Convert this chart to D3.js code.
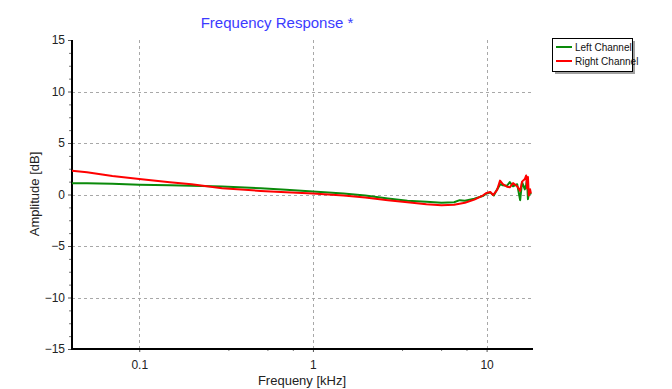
<!DOCTYPE html>
<html><head><meta charset="utf-8">
<script src="https://cdn.jsdelivr.net/npm/d3@7"></script>
<style>body{margin:0;background:#fff;}svg{display:block;font-family:"Liberation Sans",Arial,sans-serif;}</style>
</head><body>
<svg id="chart" width="672" height="389"></svg>
<script>
const title = "Frequency Response *";
const xTitle = "Frequeny [kHz]";
const yTitle = "Amplitude [dB]";
const seriesNames = ["Left Channel", "Right Channel"];
const seriesColors = ["#0a8a0a", "#ff0000"];
const xTicks = [0.1, 1, 10];
const xTickLabels = ["0.1", "1", "10"];
const xMinorTicks = [0.326, 0.547, 0.766, 3.26, 5.47, 7.66];
const yTicks = [15, 10, 5, 0, -5, -10, -15];
const yMinorTicks = [13.75, 12.5, 11.25, 8.75, 7.5, 6.25, 3.75, 2.5, 1.25, -1.25, -2.5, -3.75, -6.25, -7.5, -8.75, -11.25, -12.5, -13.75];
const xDomain = [0.041, 18.5];
const yDomain = [-15, 15];

const freqL = [0.041,0.05,0.07,0.1,0.15,0.2,0.3,0.5,0.7,1,1.5,2,2.7,3.5,4.5,5.5,6.5,7,7.5,8.5,9.5,10,10.5,11,11.5,12,12.4,13.1,13.6,14.2,15,15.6,16,16.6,16.9,17.1,17.3,17.6,18];
const ampL  = [1.1,1.1,1.05,0.95,0.9,0.85,0.78,0.6,0.45,0.3,0.1,-0.1,-0.38,-0.6,-0.7,-0.8,-0.75,-0.55,-0.6,-0.4,-0.15,0.1,0.2,-0.1,0.5,1.0,0.9,0.85,1.2,0.8,1.0,-0.55,1.2,0.5,1.0,1.4,-0.45,0.3,0.0];
const freqR = [0.041,0.05,0.07,0.1,0.15,0.2,0.3,0.5,0.7,1,1.5,2,2.7,3.5,4.5,5.5,6.5,7.5,8.5,9.5,10,10.5,10.9,11.5,11.95,12.4,13.1,13.6,14.2,15,15.6,16,16.6,16.9,17.1,17.3,17.5,17.8,18];
const ampR  = [2.3,2.15,1.8,1.5,1.2,1.0,0.6,0.35,0.22,0.1,-0.1,-0.3,-0.55,-0.75,-0.95,-1.05,-1.0,-0.8,-0.5,-0.1,0.15,0.25,-0.05,0.45,1.35,1.0,0.75,0.7,1.1,0.8,0.35,1.25,1.5,1.85,0.6,1.7,-0.1,0.5,0.1];

const svg = d3.select("#chart");
const m = {left:72, right:533, top:40, bottom:349};
const x = d3.scaleLog().domain(xDomain).range([m.left, m.right]);
const y = d3.scaleLinear().domain(yDomain).range([m.bottom, m.top]);

// title
svg.append("text").attr("x", 277).attr("y", 28).attr("text-anchor","middle")
  .attr("font-size", 15).attr("fill", "#3b3bff").text(title);

// grid
const grid = svg.append("g").attr("stroke","#a8a8a8").attr("stroke-width",1).attr("stroke-dasharray","3,3");
grid.selectAll("line.h").data(yTicks.filter(d => d !== 15 && d !== -15)).join("line")
  .attr("x1", m.left).attr("x2", m.right).attr("y1", d => Math.round(y(d))+0.5).attr("y2", d => Math.round(y(d))+0.5);
grid.selectAll("line.v").data(xTicks).join("line")
  .attr("y1", m.top).attr("y2", m.bottom).attr("x1", d => Math.round(x(d))+0.5).attr("x2", d => Math.round(x(d))+0.5);

// axes
const yAxis = d3.axisLeft(y).tickValues(yTicks).tickSize(4).tickPadding(3).tickFormat(d3.format("d"));
const gy = svg.append("g").attr("transform", `translate(${m.left},0)`).call(yAxis);
gy.select(".domain").remove();
gy.selectAll("text").attr("font-size", 12).attr("fill","#222").attr("font-family","Liberation Sans, Arial, sans-serif");
gy.selectAll(".tick line").attr("stroke","#555");
const yMinor = d3.axisLeft(y).tickValues(yMinorTicks).tickSize(3).tickFormat("");
const gym = svg.append("g").attr("transform", `translate(${m.left},0)`).call(yMinor);
gym.select(".domain").remove();
gym.selectAll(".tick line").attr("stroke","#777");

const xAxis = d3.axisBottom(x).tickValues(xTicks).tickSize(3).tickPadding(8).tickFormat((d,i) => xTickLabels[i]);
const gx = svg.append("g").attr("transform", `translate(0,${m.bottom})`).call(xAxis);
gx.select(".domain").remove();
gx.selectAll("text").attr("font-size", 12).attr("fill","#222").attr("font-family","Liberation Sans, Arial, sans-serif");
gx.selectAll(".tick line").attr("stroke","#555");
const xMinor = d3.axisBottom(x).tickValues(xMinorTicks).tickSize(2).tickFormat("");
const gxm = svg.append("g").attr("transform", `translate(0,${m.bottom})`).call(xMinor);
gxm.select(".domain").remove();
gxm.selectAll(".tick line").attr("stroke","#777");

// axis lines
svg.append("line").attr("x1", m.left).attr("x2", m.left).attr("y1", m.top).attr("y2", m.bottom+1).attr("stroke","#000").attr("stroke-width",2);
svg.append("line").attr("x1", m.left-1).attr("x2", m.right).attr("y1", m.bottom).attr("y2", m.bottom).attr("stroke","#000").attr("stroke-width",2);

// axis titles
svg.append("text").attr("x", 302).attr("y", 385).attr("text-anchor","middle").attr("font-size",13).attr("fill","#222").text(xTitle);
svg.append("text").attr("transform","translate(39,194) rotate(-90)").attr("text-anchor","middle").attr("font-size",13).attr("fill","#222").text(yTitle);

// lines
const line = d3.line().x(d => x(d[0])).y(d => y(d[1]));
const seriesData = [d3.zip(freqL, ampL), d3.zip(freqR, ampR)];
svg.selectAll("path.series").data(seriesData).join("path").attr("class","series")
  .attr("fill","none").attr("stroke", (d,i) => seriesColors[i]).attr("stroke-width", 2)
  .attr("stroke-linejoin","round").attr("d", line);

// legend
const lg = svg.append("g").attr("transform","translate(552,38)");
lg.append("rect").attr("x",3).attr("y",3).attr("width",80).attr("height",33).attr("fill","#777").attr("opacity",0.7);
lg.append("rect").attr("x",0.5).attr("y",0.5).attr("width",80).attr("height",33).attr("fill","#fff").attr("stroke","#000");
seriesNames.forEach((name,i) => {
  const yy = 9 + i*14;
  lg.append("line").attr("x1",4).attr("x2",20).attr("y1",yy).attr("y2",yy).attr("stroke",seriesColors[i]).attr("stroke-width",2);
  lg.append("text").attr("x",23).attr("y",yy+3.5).attr("font-size",10).attr("fill","#111").text(name);
});
</script>
</body></html>
